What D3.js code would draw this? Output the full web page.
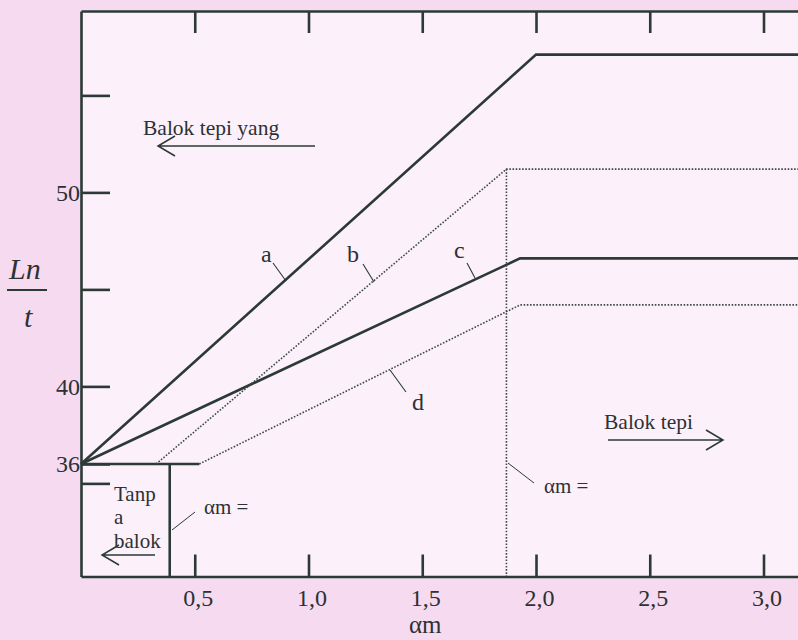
<!DOCTYPE html>
<html>
<head>
<meta charset="utf-8">
<script src="https://cdn.jsdelivr.net/npm/d3@7"></script>
<style>
  html, body { margin: 0; padding: 0; background: #f6daf0; }
  svg { display: block; }
  text { font-family: "Liberation Serif", "Times New Roman", serif; fill: #2c3134; }
</style>
</head>
<body>
<svg id="chart" width="798" height="640"></svg>
<script>
// ---- data ----
const xTickValues = [0.5, 1.0, 1.5, 2.0, 2.5, 3.0];
const xTickLabels = ["0,5", "1,0", "1,5", "2,0", "2,5", "3,0"];
const yTickValues = [35, 36, 40, 45, 50, 55];
const yTickLabels = ["", "36", "40", "", "50", ""];

const lineA = [[0, 36], [2.0, 57.1], [3.2, 57.1]];
const lineB = [[0.33, 36], [1.87, 51.2], [3.2, 51.2]];
const lineC = [[0, 36], [1.93, 46.6], [3.2, 46.6]];
const lineD = [[0.52, 36], [1.93, 44.2], [3.2, 44.2]];
const baseLine = [[0, 36], [0.52, 36]];
const noBeamLimit = [[0.39, 36], [0.39, 30.2]];
const edgeBeamLimit = [[1.87, 51.2], [1.87, 30.2]];

const ink = "#2b3a35";
const svg = d3.select("#chart");

// ---- scales ----
const x = d3.scaleLinear().domain([0, 3.2]).range([81, 81 + 3.2 * 227.5]);
const y = d3.scaleLinear().domain([30.2, 59.35]).range([576.5, 11]);

// plot area background
svg.append("rect")
  .attr("x", x(0)).attr("y", y(59.35))
  .attr("width", 798 - x(0)).attr("height", y(30.2) - y(59.35))
  .attr("fill", "#fcf0fa");

// ---- axes ----
function styleAxis(g) {
  g.select(".domain").attr("stroke", ink).attr("stroke-width", 2.6);
  g.selectAll(".tick line").attr("stroke", ink).attr("stroke-width", 2.6);
  g.selectAll(".tick text")
    .attr("fill", "#2c3134")
    .style("font-family", '"Liberation Serif", serif');
}

svg.append("g")
  .attr("transform", `translate(0,${y(30.2)})`)
  .call(d3.axisBottom(x).tickValues(xTickValues)
    .tickFormat((d, i) => xTickLabels[i]).tickSize(-22).tickSizeOuter(0).tickPadding(12))
  .call(styleAxis)
  .call(g => g.selectAll(".tick text").attr("font-size", 24).attr("dx", 3));

svg.append("g")
  .attr("transform", `translate(0,${y(59.35)})`)
  .call(d3.axisTop(x).tickValues(xTickValues).tickFormat("").tickSize(-22).tickSizeOuter(0))
  .call(styleAxis);

svg.append("g")
  .attr("transform", `translate(${x(0)},0)`)
  .call(d3.axisLeft(y).tickValues(yTickValues)
    .tickFormat((d, i) => yTickLabels[i]).tickSize(-29).tickSizeOuter(0).tickPadding(1))
  .call(styleAxis)
  .call(g => g.selectAll(".tick text").attr("font-size", 24));

// ---- lines ----
const line = d3.line().x(d => x(d[0])).y(d => y(d[1]));
const solid = { stroke: ink, "stroke-width": 2.6, fill: "none" };
const dotted = { stroke: "#3c4b47", "stroke-width": 1.6, fill: "none", "stroke-dasharray": "1.6,1.6" };

function draw(data, style) {
  const p = svg.append("path").attr("d", line(data));
  Object.entries(style).forEach(([k, v]) => p.attr(k, v));
}
draw(lineA, solid);
draw(lineC, solid);
draw(baseLine, solid);
draw(noBeamLimit, solid);
draw(lineB, dotted);
draw(lineD, dotted);
draw(edgeBeamLimit, dotted);

// ---- curve labels with leader lines ----
const curveLabels = [
  { t: "a", tx: 261, ty: 262, l: [[273, 263], [286, 281]] },
  { t: "b", tx: 347, ty: 262, l: [[363, 264], [374, 282]] },
  { t: "c", tx: 454, ty: 258, l: [[467, 263], [475, 278]] },
  { t: "d", tx: 412, ty: 410, l: [[390, 370], [406, 392]] }
];
curveLabels.forEach(c => {
  svg.append("text").attr("x", c.tx).attr("y", c.ty).attr("font-size", 24).text(c.t);
  svg.append("line")
    .attr("x1", c.l[0][0]).attr("y1", c.l[0][1]).attr("x2", c.l[1][0]).attr("y2", c.l[1][1])
    .attr("stroke", ink).attr("stroke-width", 1.1);
});

// "αm =" annotations
svg.append("line").attr("x1", 172).attr("y1", 530).attr("x2", 195).attr("y2", 512)
  .attr("stroke", ink).attr("stroke-width", 1);
svg.append("text").attr("x", 204).attr("y", 514).attr("font-size", 21).text("αm =");
svg.append("line").attr("x1", 508).attr("y1", 463).attr("x2", 534).attr("y2", 483)
  .attr("stroke", ink).attr("stroke-width", 1);
svg.append("text").attr("x", 544).attr("y", 493).attr("font-size", 21).text("αm =");

// region texts and arrows
function arrow(x1, x2, yy) {
  const dir = x2 > x1 ? 1 : -1;
  svg.append("path")
    .attr("d", `M${x1},${yy}H${x2}M${x2 - dir * 17},${yy - 10}L${x2},${yy}L${x2 - dir * 17},${yy + 10}`)
    .attr("stroke", ink).attr("stroke-width", 1.5).attr("fill", "none");
}
svg.append("text").attr("x", 143).attr("y", 135).attr("font-size", 21.5).text("Balok tepi yang");
arrow(315, 158, 146);
svg.append("text").attr("x", 604).attr("y", 429).attr("font-size", 21.5).text("Balok tepi");
arrow(608, 723, 440);
svg.append("text").attr("x", 114).attr("y", 501).attr("font-size", 21).text("Tanp");
svg.append("text").attr("x", 114).attr("y", 524).attr("font-size", 21).text("a");
svg.append("text").attr("x", 114).attr("y", 548).attr("font-size", 21).text("balok");
arrow(155, 102, 555);

// axis titles
svg.append("text").attr("x", 9).attr("y", 279).attr("font-size", 30)
  .attr("font-style", "italic").text("Ln");
svg.append("line").attr("x1", 7).attr("x2", 47).attr("y1", 290).attr("y2", 290)
  .attr("stroke", ink).attr("stroke-width", 2);
svg.append("text").attr("x", 24).attr("y", 327).attr("font-size", 30)
  .attr("font-style", "italic").text("t");
svg.append("text").attr("x", 409).attr("y", 633).attr("font-size", 25).text("αm");
</script>
</body>
</html>
